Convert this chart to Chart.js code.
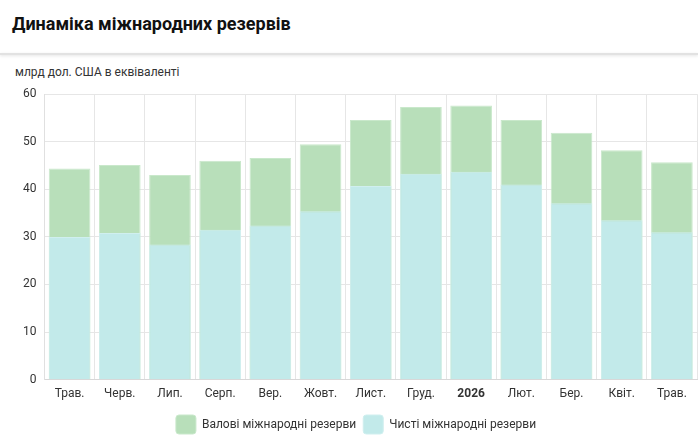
<!DOCTYPE html>
<html>
<head>
<meta charset="utf-8">
<script src="https://cdn.jsdelivr.net/npm/chart.js@4.4.1/dist/chart.umd.min.js"></script>
<style>
  html, body { margin: 0; padding: 0; background: #fff; width: 698px; height: 444px; overflow: hidden; font-family: Roboto, "Liberation Sans", Arial, sans-serif; }
  #title { position: absolute; left: 12px; top: 13px; font-size: 18px; font-weight: bold; color: #111; font-family: Roboto, "Liberation Sans", sans-serif; }
  #sep { position: absolute; left: 0; top: 53px; width: 698px; height: 2px; background: #e2e2e2; box-shadow: 0 1px 3px rgba(0,0,0,0.12); }
  #unit { position: absolute; left: 15px; top: 65px; font-size: 12px; color: #333; }
  #wrap { position: absolute; left: 0; top: 79px; width: 698px; height: 365px; }
</style>
</head>
<body>
<div id="title">Динаміка міжнародних резервів</div>
<div id="sep"></div>
<div id="unit">млрд дол. США в еквіваленті</div>
<div id="wrap"><canvas id="c"></canvas></div>
<script>
const categories = ["Трав.", "Черв.", "Лип.", "Серп.", "Вер.", "Жовт.", "Лист.", "Груд.", "2026", "Лют.", "Бер.", "Квіт.", "Трав."];
const grossReserves = [44.4, 45.1, 43.0, 46.0, 46.6, 49.5, 54.6, 57.3, 57.6, 54.6, 51.9, 48.2, 45.7];
const netReserves = [30.0, 30.8, 28.4, 31.5, 32.4, 35.4, 40.7, 43.3, 43.7, 41.0, 37.1, 33.5, 31.0];
const yTicks = [0, 10, 20, 30, 40, 50, 60];
const FONT = 'Roboto, "Liberation Sans", Arial, sans-serif';

new Chart(document.getElementById('c'), {
  type: 'bar',
  data: {
    labels: categories,
    datasets: [
      {
        label: 'Валові міжнародні резерви',
        data: grossReserves,
        backgroundColor: '#b8dfba',
        borderColor: '#c9e8cb',
        borderWidth: 1,
        order: 2,
        barPercentage: 0.83,
        categoryPercentage: 1.0
      },
      {
        label: 'Чисті міжнародні резерви',
        data: netReserves,
        backgroundColor: '#c2eaea',
        borderColor: '#d0efef',
        borderWidth: 1,
        order: 1,
        barPercentage: 0.83,
        categoryPercentage: 1.0
      }
    ]
  },
  options: {
    responsive: true,
    maintainAspectRatio: false,
    animation: false,
    layout: { padding: { top: 1, right: 1, left: 15, bottom: 0 } },
    plugins: {
      tooltip: { enabled: false },
      legend: {
        position: 'bottom',
        labels: {
          sort: (a, b) => a.datasetIndex - b.datasetIndex,
          boxWidth: 20,
          boxHeight: 19,
          useBorderRadius: true,
          borderRadius: 3,
          color: '#333',
          padding: 7,
          font: { family: FONT, size: 12 }
        }
      }
    },
    scales: {
      x: {
        stacked: true,
        grid: { color: '#e6e6e6', offset: true, drawTicks: false },
        border: { color: '#d8d8d8' },
        ticks: {
          color: '#333',
          padding: 7,
          font: (ctx) => ({ family: FONT, size: 12, weight: (categories[ctx.index] === '2026') ? 'bold' : 'normal' })
        }
      },
      y: {
        stacked: false,
        min: 0,
        max: 60,
        afterBuildTicks: (axis) => { axis.ticks = yTicks.map(v => ({ value: v })); },
        grid: { color: '#e6e6e6', drawTicks: false },
        border: { color: '#e0e0e0' },
        ticks: {
          color: '#333',
          padding: 8,
          font: { family: FONT, size: 12 }
        }
      }
    }
  }
});
</script>
</body>
</html>
